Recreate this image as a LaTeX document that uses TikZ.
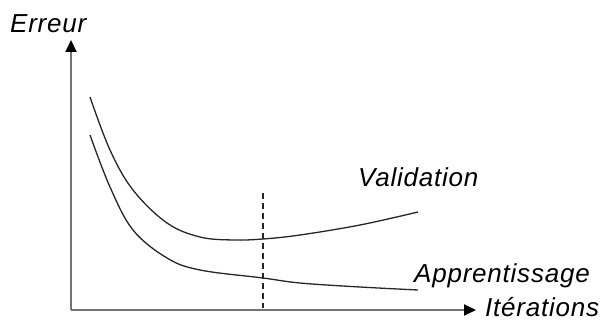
\documentclass[tikz,border=0pt]{standalone}
\usepackage{fontspec}
\setmainfont{Liberation Sans}[LetterSpace=3]
\usetikzlibrary{arrows.meta}
\begin{document}
\begin{tikzpicture}[x=1pt,y=-1pt,
  axis/.style={draw=black!55,line width=2pt,-{Triangle[length=12pt,width=11pt,fill=black,color=black]}},
  curve/.style={draw=black!85,line width=1.3pt},
  lbl/.style={font=\fontsize{26}{28}\selectfont\itshape,inner sep=0pt,text=black}]
\useasboundingbox (0,0) rectangle (602,320);
\coordinate (O) at (71,310);
\coordinate (Ytop) at (71,40);
\coordinate (Xend) at (476,310);
\draw[axis] (O) -- (Ytop);
\draw[axis] (O) -- (Xend);
\coordinate (D1) at (263,193);
\coordinate (D2) at (263,308);
\draw[black!85,line width=1.3pt,dash pattern=on 6pt off 4pt] (D1) -- (D2);
\draw[curve] plot[smooth,tension=0.6] coordinates {(90,97) (110,150) (133,190) (167,223) (200,237) (233,240) (263,239) (300,235) (360,225) (418,212)};
\draw[curve] plot[smooth,tension=0.6] coordinates {(90,135) (110,187) (133,230) (167,258) (200,270) (263,278) (300,283) (360,287) (418,290)};
\node[lbl,anchor=base west] (err) at (10,33) {Erreur};
\node[lbl,anchor=base west] (val) at (358,187) {Validation};
\node[lbl,anchor=base west] (app) at (414,283) {Apprentissage};
\node[lbl,anchor=base west] (ite) at (485,316) {Itérations};
\end{tikzpicture}
\end{document}
